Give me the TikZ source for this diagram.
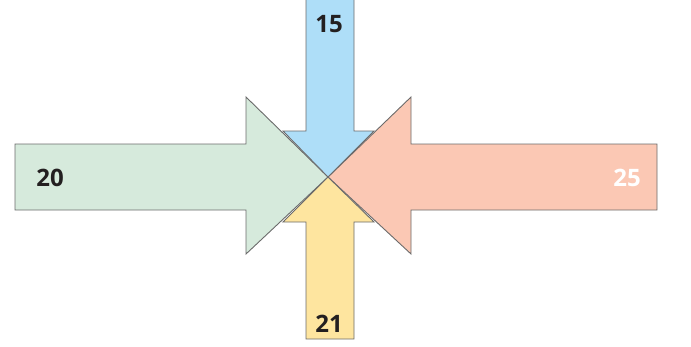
\documentclass[tikz,border=0pt]{standalone}
\usepackage{fontspec}
\setmainfont{Open Sans}
\definecolor{cgreen}{HTML}{D6EADC}
\definecolor{cred}{HTML}{FBC8B4}
\definecolor{cblue}{HTML}{AEDEF8}
\definecolor{cyellow}{HTML}{FEE59F}
\definecolor{cedge}{HTML}{6B6B6B}
\definecolor{ctext}{HTML}{231F20}
\tikzset{
  arrowshape/.style={draw=cedge, line width=0.9pt, line join=miter},
  numlabel/.style={font=\bfseries\fontsize{24}{28}\selectfont, text=ctext, inner sep=0pt},
}
\begin{document}
\begin{tikzpicture}[x=1pt,y=-1pt]
\useasboundingbox (0,0) rectangle (691,346);
% green (left)
\path[arrowshape, fill=cgreen] (15,144) -- (246,144) -- (246,97) -- (328,177) -- (246,254) -- (246,210) -- (15,210) -- cycle;
% red (right)
\path[arrowshape, fill=cred] (657,144) -- (411,144) -- (411,97) -- (328,177) -- (411,254) -- (411,210) -- (657,210) -- cycle;
% blue (top)
\path[arrowshape, fill=cblue] (306,-2) -- (354,-2) -- (354,131) -- (374,131) -- (328,177) -- (283,131) -- (306,131) -- cycle;
% yellow (bottom)
\path[arrowshape, fill=cyellow] (306,339) -- (354,339) -- (354,222) -- (374,222) -- (328,177) -- (283,222) -- (306,222) -- cycle;
\node[numlabel] (lgreen) at (50,178) {20};
\node[numlabel, text=white] (lred) at (627,178) {25};
\node[numlabel] (lblue) at (329,24) {15};
\node[numlabel] (lyellow) at (329,324) {21};
\end{tikzpicture}
\end{document}
